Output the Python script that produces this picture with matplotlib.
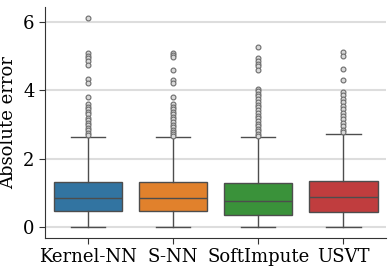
import numpy as np
import matplotlib
matplotlib.use("Agg")
import matplotlib.pyplot as plt

# Box statistics
methods = ["Kernel-NN", "S-NN", "SoftImpute", "USVT"]
q1 = [0.47, 0.47, 0.37, 0.44]
med = [0.87, 0.87, 0.77, 0.89]
q3 = [1.32, 1.32, 1.29, 1.36]
whis_lo = [0.0, 0.0, 0.0, 0.0]
whis_hi = [2.63, 2.63, 2.65, 2.73]
fliers = [
    [6.12, 5.08, 5.0, 4.93, 4.85, 4.75, 4.33, 4.22, 3.8, 3.6, 3.52, 3.45,
     3.38, 3.3, 3.2, 3.12, 3.05, 2.98, 2.9, 2.83, 2.76, 2.7],
    [5.08, 5.02, 4.97, 4.6, 4.3, 4.22, 3.8, 3.6, 3.52, 3.45, 3.38, 3.3,
     3.22, 3.15, 3.08, 3.0, 2.92, 2.85, 2.78, 2.72, 2.67],
    [5.27, 4.93, 4.85, 4.77, 4.7, 4.6, 4.05, 3.98, 3.9, 3.82, 3.74, 3.66,
     3.58, 3.5, 3.42, 3.34, 3.26, 3.18, 3.1, 3.02, 2.95, 2.88, 2.81, 2.74, 2.68],
    [5.11, 5.0, 4.63, 4.29, 3.95, 3.85, 3.75, 3.65, 3.55, 3.45, 3.35, 3.25,
     3.15, 3.05, 2.95, 2.85, 2.78],
]
colors = ["#3274a1", "#e1812c", "#3a923a", "#c03d3e"]

plt.rcParams['font.family'] = 'DejaVu Serif'

stats = []
for i in range(len(methods)):
    stats.append({"label": methods[i], "q1": q1[i], "med": med[i], "q3": q3[i],
                  "whislo": whis_lo[i], "whishi": whis_hi[i], "fliers": fliers[i]})

fig = plt.figure(figsize=(3.92, 2.69), dpi=100)
ax = fig.add_axes([0.115, 0.115, 0.87, 0.859])

line_col = "#4d4d4d"
bp = ax.bxp(stats, positions=range(len(methods)), widths=0.8, patch_artist=True,
            capwidths=0.4,
            boxprops=dict(edgecolor=line_col, linewidth=1.0),
            whiskerprops=dict(color=line_col, linewidth=1.0),
            capprops=dict(color=line_col, linewidth=1.0),
            medianprops=dict(color=line_col, linewidth=1.0),
            flierprops=dict(marker="o", markersize=3.5, markerfacecolor="#d9d9d9",
                            markeredgecolor="#6b6b6b", markeredgewidth=0.8))
for patch, c in zip(bp["boxes"], colors):
    patch.set_facecolor(c)

ax.set_xlim(-0.5, 3.5)
ax.set_ylim(-0.31, 6.43)
ax.set_yticks([0, 2, 4, 6])
ax.set_xticks(range(len(methods)))
ax.set_xticklabels(methods)
ax.yaxis.grid(True, color="#dddddd", linewidth=1.5)
ax.set_axisbelow(True)
ax.tick_params(labelsize=13, color="#333333", length=4)
ax.set_ylabel("Absolute error", fontsize=13)
for s in ["top", "right"]:
    ax.spines[s].set_visible(False)
for s in ["left", "bottom"]:
    ax.spines[s].set_color("#333333")

fig.savefig("out.png", dpi=100)
